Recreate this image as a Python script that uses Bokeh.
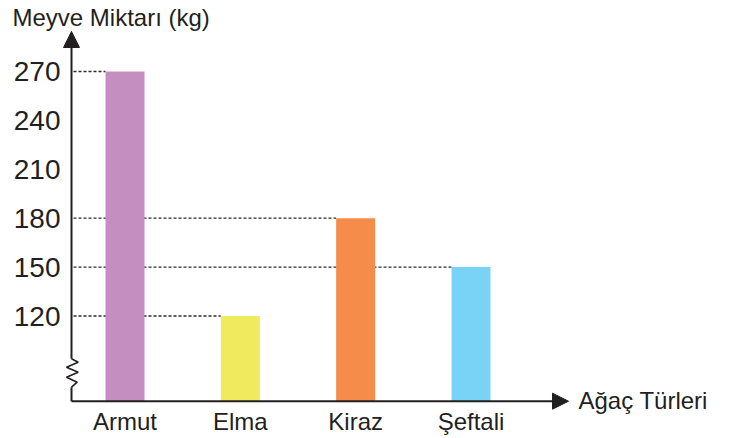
from bokeh.plotting import figure
from bokeh.models import Range1d, FixedTicker, Arrow, NormalHead, Label
from bokeh.embed import file_html
from bokeh.resources import INLINE

# ---- data ----
categories = ["Armut", "Elma", "Kiraz", "Şeftali"]
amounts = [270, 120, 180, 150]
colors = ["#C48FC0", "#F0EA5E", "#F68C4A", "#79D3F7"]
y_ticks = [120, 150, 180, 210, 240, 270]
y_title = "Meyve Miktarı (kg)"
x_title = "Ağaç Türleri"

positions = list(range(1, len(categories) + 1))

# ---- layout helpers (pixel scale of the reference) ----
PX_X = 115.33      # pixels per category step
PX_Y = 1.63        # pixels per kg
X_LEFT = 0.5361    # x value at the y-axis line
INK = "#231F20"
FONT = "Liberation Sans"

def dx(px):
    return X_LEFT + (px - 71) / PX_X

def dy(py):
    return 270 - (py - 71) / PX_Y

frame_left, frame_top, frame_bottom = 62, 30, 415
frame_w = 743 - frame_left
frame_h = frame_bottom - frame_top
x_range = Range1d(dx(frame_left), dx(743))
y_range = Range1d(dy(frame_bottom), dy(frame_top))
baseline = dy(400.7)

p = figure(frame_width=frame_w, frame_height=frame_h, x_range=x_range, y_range=y_range,
           output_backend="svg", toolbar_location=None,
           min_border_left=frame_left, min_border_right=0,
           min_border_top=frame_top, min_border_bottom=438 - frame_bottom)
p.outline_line_color = None
p.xgrid.visible = False
p.ygrid.visible = False
p.background_fill_color = "white"
p.border_fill_color = "white"

# y-axis title as the plot title, shifted to the left edge
p.title.text = y_title
p.title.align = "left"
p.title.offset = 12 - frame_left
p.title.standoff = 0
p.title.text_font = FONT
p.title.text_font_size = "24px"
p.title.text_font_style = "normal"
p.title.text_color = INK

# axes (labels only)
for ax in (p.xaxis[0], p.yaxis[0]):
    ax.axis_line_color = None
    ax.major_tick_line_color = None
    ax.minor_tick_line_color = None
    ax.major_tick_in = 0
    ax.major_tick_out = 0
    ax.minor_tick_in = 0
    ax.minor_tick_out = 0
    ax.major_label_text_font = FONT
    ax.major_label_text_color = INK

p.yaxis.ticker = FixedTicker(ticks=y_ticks)
p.yaxis.major_label_text_font_size = "28px"
p.yaxis.major_label_standoff = 2

p.xaxis.ticker = FixedTicker(ticks=positions)
p.xaxis.major_label_overrides = {pos: name for pos, name in zip(positions, categories)}
p.xaxis.major_label_text_font_size = "24px"
p.xaxis.major_label_standoff = -8

# dotted guide lines from the axis to each bar
bar_w = 39 / PX_X
p.segment(x0=[X_LEFT + 2 / PX_X] * len(amounts),
          x1=[pos - bar_w / 2 for pos in positions],
          y0=amounts, y1=amounts,
          line_color="#2a2a2a", line_width=1.3, line_dash="3 2")

# bars
p.vbar(x=positions, top=amounts, bottom=baseline, width=bar_w,
       fill_color=colors, line_color=None)

# y axis with break zigzag and arrow
p.line([X_LEFT, X_LEFT], [baseline, dy(386.7)], line_color=INK, line_width=2)
zz_px = [71, 76.7, 66, 77.7, 66, 77.7, 71]
zz_py = [386.7, 381.7, 376.7, 371.7, 366.7, 361.7, 358.3]
p.line([dx(v) for v in zz_px], [dy(v) for v in zz_py], line_color=INK, line_width=1.6)
p.add_layout(Arrow(end=NormalHead(size=16, fill_color=INK, line_color=INK),
                   x_start=X_LEFT, y_start=dy(358.3), x_end=X_LEFT, y_end=dy(31),
                   line_color=INK, line_width=2))

# x axis arrow
p.add_layout(Arrow(end=NormalHead(size=16, fill_color=INK, line_color=INK),
                   x_start=X_LEFT, y_start=baseline, x_end=dx(568), y_end=baseline,
                   line_color=INK, line_width=2))

# x-axis title
p.add_layout(Label(x=dx(578), y=dy(400), text=x_title,
                   text_font=FONT, text_font_size="24px", text_color=INK,
                   text_baseline="middle"))

open("out.html", "w").write(file_html(p, INLINE))
